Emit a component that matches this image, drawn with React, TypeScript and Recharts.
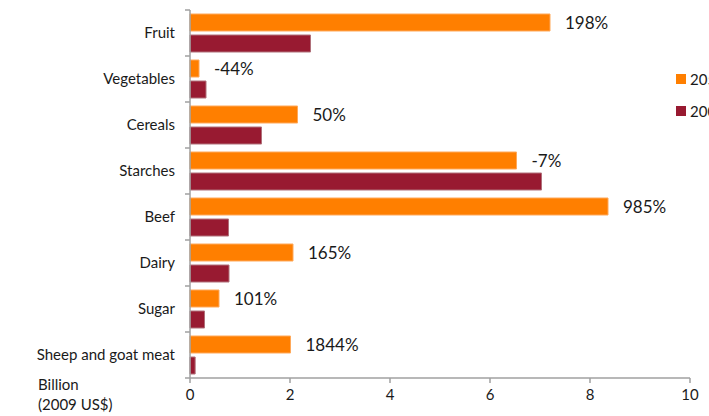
import React from 'react';
import { BarChart, Bar, XAxis, YAxis, Legend, LabelList } from 'recharts';

const categories = ['Fruit', 'Vegetables', 'Cereals', 'Starches', 'Beef', 'Dairy', 'Sugar', 'Sheep and goat meat'];
const values2050 = [7.2, 0.18, 2.15, 6.53, 8.36, 2.06, 0.58, 2.01];
const values2005 = [2.41, 0.32, 1.43, 7.03, 0.77, 0.78, 0.29, 0.103];
const changeLabels = ['198%', '-44%', '50%', '-7%', '985%', '165%', '101%', '1844%'];
const seriesNames = ['2050', '2005'];
const xTicks = [0, 2, 4, 6, 8, 10];

const ORANGE = '#FF7F00';
const RED = '#981A31';
const AXIS = '#A0A0A0';
const TEXT = '#1a1a1a';
const TICK_SIZE = 5;
const TICK_MARGIN = 10;

const data = categories.map((name, i) => ({
  name,
  y2050: values2050[i],
  y2005: values2005[i],
  change: changeLabels[i],
}));

// Excel-style category axis: label at the band centre, tick marks on band edges
const CategoryTick = (props: any) => {
  const { x, y, payload, index, visibleTicksCount } = props;
  const half = payload?.offset ?? 0;
  const axisX = x + TICK_SIZE + TICK_MARGIN;
  const isLast = index === visibleTicksCount - 1;
  return (
    <g>
      <line x1={axisX - TICK_SIZE} x2={axisX} y1={y - half} y2={y - half} stroke={AXIS} strokeWidth={1.5} />
      {isLast && <line x1={axisX - TICK_SIZE} x2={axisX} y1={y + half} y2={y + half} stroke={AXIS} strokeWidth={1.5} />}
      <text x={x} y={y} dy="0.355em" textAnchor="end" fill={TEXT} fontSize={15}>
        {payload.value}
      </text>
    </g>
  );
};

const renderLegend = (props: any) => {
  const payload: any[] = props.payload || [];
  const ordered = seriesNames.map((n) => payload.find((p) => p.value === n)).filter(Boolean);
  return (
    <div>
      {ordered.map((entry: any) => (
        <div key={entry.value} style={{ display: 'flex', alignItems: 'center', height: 32, whiteSpace: 'nowrap' }}>
          <span style={{ width: 10, height: 10, background: entry.color, display: 'inline-block', marginRight: 4 }} />
          <span style={{ fontSize: 15, color: TEXT }}>{entry.value}</span>
        </div>
      ))}
    </div>
  );
};

export default function App() {
  return (
    <div style={{ position: 'absolute', left: 0, top: 0, width: 709, height: 416, overflow: 'hidden', background: '#fff', fontFamily: 'Lato, "Open Sans", sans-serif' }}>
      <BarChart width={760} height={416} data={data} layout="vertical" margin={{ top: 10, right: 70, bottom: 0, left: 0 }}>
        <XAxis
          type="number"
          domain={[0, 10]}
          ticks={xTicks}
          height={38}
          axisLine={{ stroke: AXIS, strokeWidth: 1.5 }}
          tickLine={{ stroke: AXIS, strokeWidth: 1.5 }}
          tickSize={5}
          tickMargin={6}
          tick={{ fill: TEXT, fontSize: 15 }}
        />
        <YAxis
          type="category"
          dataKey="name"
          width={190}
          axisLine={{ stroke: AXIS, strokeWidth: 1.5 }}
          tickLine={false}
          tickSize={TICK_SIZE}
          tickMargin={TICK_MARGIN}
          tick={<CategoryTick />}
        />
        <Legend
          layout="vertical"
          align="center"
          verticalAlign="middle"
          content={renderLegend}
          wrapperStyle={{ left: 676, top: 63, width: 80 }}
        />
        <Bar dataKey="y2050" name="2050" fill={ORANGE} stroke="#FFA95A" strokeWidth={1} barSize={17} isAnimationActive={false}>
          <LabelList dataKey="change" position="right" offset={15} fill={TEXT} fontSize={17} />
        </Bar>
        <Bar dataKey="y2005" name="2005" fill={RED} stroke="#B0707A" strokeWidth={1} barSize={17} isAnimationActive={false} />
      </BarChart>
      <div style={{ position: 'absolute', left: 38, top: 374, fontSize: 15, lineHeight: '20px', color: TEXT }}>
        Billion
        <br />
        (2009 US$)
      </div>
    </div>
  );
}
